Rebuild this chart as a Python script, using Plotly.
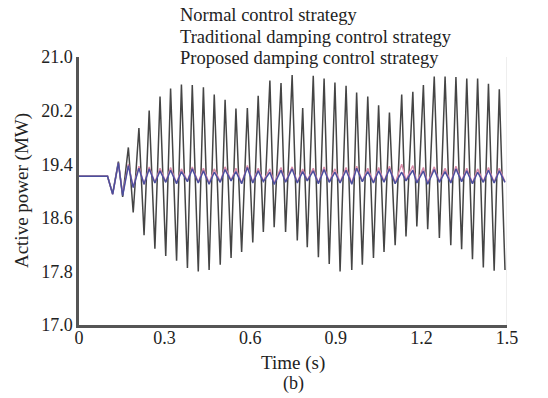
import plotly.graph_objects as go

# ---- data ----
pre_t = [0.0, 0.100]
pre_v = [19.22, 19.22]

dip_t = 0.118
dip_black = 18.96
dip_blue = 18.95
dip_pink = 18.95

peak_t = [0.138, 0.173, 0.210, 0.246, 0.284, 0.321, 0.359, 0.397, 0.436, 0.474,
          0.512, 0.550, 0.590, 0.628, 0.669, 0.708, 0.747, 0.784, 0.821, 0.859,
          0.897, 0.936, 0.973, 1.012, 1.050, 1.088, 1.131, 1.170, 1.207, 1.245,
          1.283, 1.321, 1.359, 1.397, 1.435, 1.473]
trough_t = [0.153, 0.190, 0.228, 0.266, 0.304, 0.342, 0.380, 0.418, 0.456, 0.495,
            0.533, 0.570, 0.609, 0.646, 0.684, 0.724, 0.765, 0.800, 0.839, 0.877,
            0.915, 0.956, 0.993, 1.032, 1.069, 1.108, 1.146, 1.184, 1.222, 1.263,
            1.303, 1.341, 1.379, 1.417, 1.455, 1.493]

normal_peaks = [19.44, 19.65, 19.94, 20.20, 20.41, 20.53, 20.59, 20.58, 20.55, 20.44,
                20.36, 20.23, 20.24, 20.42, 20.65, 20.61, 20.73, 20.24, 20.72, 20.68,
                20.62, 20.57, 20.47, 20.41, 20.28, 20.17, 20.44, 20.48, 20.58, 20.71,
                20.71, 20.70, 20.68, 20.68, 20.60, 20.52]
normal_troughs = [18.91, 18.68, 18.34, 18.14, 18.03, 17.96, 17.85, 17.80, 17.82, 17.90,
                  18.00, 18.09, 18.23, 18.39, 18.46, 18.39, 18.26, 18.16, 18.01, 17.91,
                  17.80, 17.82, 17.90, 18.00, 18.09, 18.19, 18.32, 18.47, 18.43, 18.30,
                  18.19, 18.13, 17.98, 17.86, 17.81, 17.82]

trad_peaks = [19.42, 19.40, 19.37, 19.36, 19.34, 19.35, 19.33, 19.36, 19.34, 19.33,
              19.36, 19.34, 19.38, 19.34, 19.33, 19.35, 19.36, 19.33, 19.34, 19.36,
              19.33, 19.35, 19.37, 19.34, 19.35, 19.37, 19.40, 19.38, 19.35, 19.36,
              19.34, 19.37, 19.34, 19.33, 19.35, 19.34]
trad_troughs = [18.95, 19.06, 19.10, 19.13, 19.14, 19.12, 19.15, 19.13, 19.12, 19.14,
                19.16, 19.12, 19.13, 19.15, 19.12, 19.14, 19.13, 19.16, 19.12, 19.14,
                19.13, 19.12, 19.15, 19.13, 19.14, 19.12, 19.16, 19.13, 19.12, 19.14,
                19.13, 19.15, 19.12, 19.14, 19.13, 19.14]

prop_peaks = [19.42, 19.38, 19.34, 19.33, 19.30, 19.31, 19.29, 19.33, 19.30, 19.28,
              19.32, 19.29, 19.35, 19.30, 19.28, 19.31, 19.33, 19.29, 19.30, 19.32,
              19.28, 19.31, 19.34, 19.29, 19.30, 19.33, 19.28, 19.31, 19.30, 19.32,
              19.29, 19.33, 19.30, 19.28, 19.31, 19.30]
prop_troughs = [18.93, 19.05, 19.10, 19.12, 19.13, 19.11, 19.14, 19.12, 19.10, 19.13,
                19.15, 19.11, 19.12, 19.14, 19.10, 19.13, 19.12, 19.15, 19.11, 19.13,
                19.12, 19.10, 19.14, 19.12, 19.13, 19.11, 19.15, 19.12, 19.10, 19.13,
                19.12, 19.14, 19.11, 19.13, 19.12, 19.13]

x_ticks = [0, 0.3, 0.6, 0.9, 1.2, 1.5]
x_tick_labels = ["0", "0.3", "0.6", "0.9", "1.2", "1.5"]
y_ticks = [17.0, 17.8, 18.6, 19.4, 20.2, 21.0]
y_tick_labels = ["17.0", "17.8", "18.6", "19.4", "20.2", "21.0"]

legend_names = ["Normal control strategy",
                "Traditional damping control strategy",
                "Proposed damping control strategy"]


def build(dip_v, peaks, troughs):
    t = list(pre_t) + [dip_t]
    v = list(pre_v) + [dip_v]
    for i in range(len(peak_t)):
        t += [peak_t[i], trough_t[i]]
        v += [peaks[i], troughs[i]]
    return t, v


FONT = "Liberation Serif"
TXT = "#222222"
fig = go.Figure()

series = [
    (legend_names[0], dip_black, normal_peaks, normal_troughs, "#454545", 1.5),
    (legend_names[1], dip_pink, trad_peaks, trad_troughs, "#d98aa8", 1.4),
    (legend_names[2], dip_blue, prop_peaks, prop_troughs, "#4b4f9e", 1.5),
]
for name, dv, pk, tr, col, w in series:
    t, v = build(dv, pk, tr)
    fig.add_trace(go.Scatter(x=t, y=v, mode="lines", name=name,
                             line=dict(color=col, width=w), showlegend=False))

# faint right frame line
fig.add_shape(type="line", xref="x", yref="y", x0=1.5, x1=1.5, y0=17.0, y1=21.0,
              line=dict(color="#dddddd", width=1), layer="below")

ann = []
leg_y = [1.155, 1.075, 0.995]
for name, yy in zip(legend_names, leg_y):
    ann.append(dict(text=name, xref="paper", yref="paper", x=0.231, y=yy,
                    xanchor="left", yanchor="middle", showarrow=False,
                    font=dict(family=FONT, size=18.5, color=TXT)))
ann.append(dict(text="Time (s)", xref="paper", yref="paper", x=0.5, y=-0.14,
                xanchor="center", yanchor="middle", showarrow=False,
                font=dict(family=FONT, size=19, color=TXT)))
ann.append(dict(text="(b)", xref="paper", yref="paper", x=0.5, y=-0.218,
                xanchor="center", yanchor="middle", showarrow=False,
                font=dict(family=FONT, size=18, color=TXT)))
ann.append(dict(text="Active power (MW)", xref="paper", yref="paper", x=-0.133, y=0.5,
                xanchor="center", yanchor="middle", showarrow=False, textangle=-90,
                font=dict(family=FONT, size=19, color=TXT)))

fig.update_layout(
    width=548, height=398,
    margin=dict(l=79, r=41, t=57, b=73),
    paper_bgcolor="white", plot_bgcolor="white",
    annotations=ann,
    showlegend=False,
    xaxis=dict(range=[0, 1.5], tickvals=x_ticks, ticktext=x_tick_labels,
               showgrid=False, zeroline=False, showline=True, linecolor="#555555",
               linewidth=2.5, ticks="", ticklabelstandoff=-5,
               tickfont=dict(family=FONT, size=18, color=TXT)),
    yaxis=dict(range=[17.0, 21.0], tickvals=y_ticks, ticktext=y_tick_labels,
               showgrid=False, zeroline=False, showline=True, linecolor="#555555",
               linewidth=2.5, ticks="", ticklabelstandoff=0,
               tickfont=dict(family=FONT, size=18, color=TXT)),
)

# remove the page's default 8px body margin so the figure fills the window
fig.write_html("out.html",
               config={"displayModeBar": False},
               post_script="document.body.style.margin='0px';document.body.style.overflow='hidden';")
